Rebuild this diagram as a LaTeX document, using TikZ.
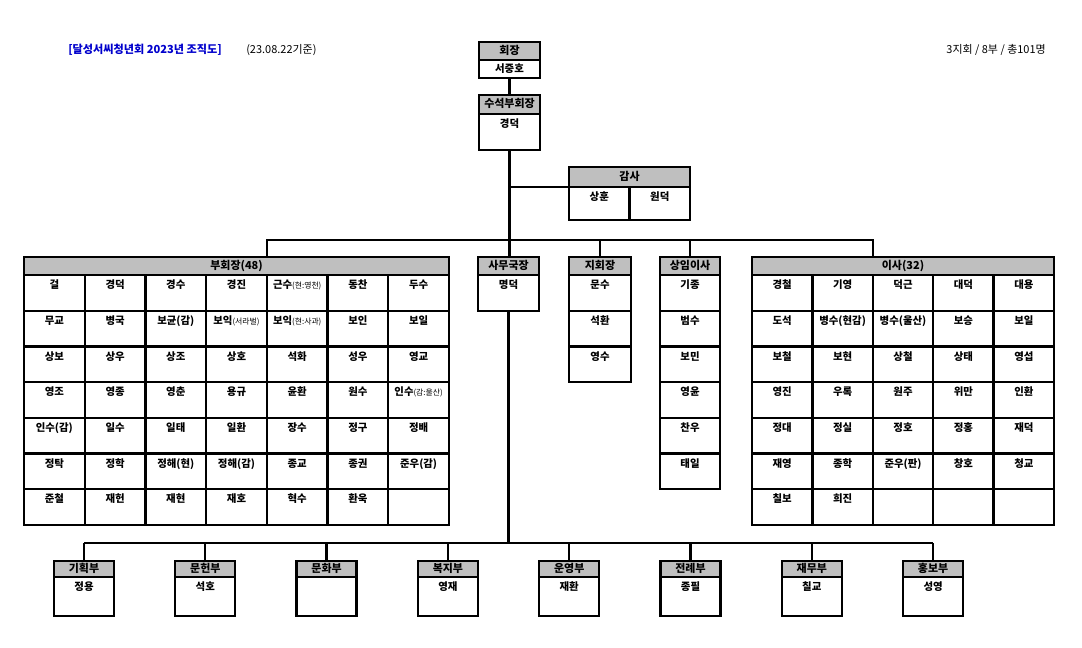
\documentclass[tikz,border=0pt]{standalone}
\usepackage{fontspec}
\setmainfont{Noto Sans CJK KR}
\definecolor{titleblue}{RGB}{0,0,204}
\newcommand{\sm}[1]{{\fontsize{5.6}{6.5}\selectfont\mdseries #1}}

\begin{document}
\begin{tikzpicture}[
    x=0.025cm, y=-0.025cm,
    head/.style={draw, fill=gray!50, line width=1.6pt, anchor=north west, inner sep=0pt, outer sep=0pt, minimum height=0.45cm, text height=0.22cm, text depth=0.06cm, font=\bfseries\fontsize{7.8}{9}\selectfont},
    cell/.style={draw, fill=white, line width=1.6pt, anchor=north west, inner xsep=0pt, inner ysep=0.1cm, outer sep=0pt, minimum width=1.518cm, minimum height=0.893cm, text height=0.24cm, text depth=0.453cm, font=\bfseries\fontsize{7.4}{8.6}\selectfont},
    link/.style={line width=1.6pt},
    note/.style={anchor=west, inner sep=0pt, font=\fontsize{7.8}{9}\selectfont},
]
    \useasboundingbox (0,0) rectangle (1082,648);

    % Title line
    \node[note, font=\bfseries\fontsize{7.9}{9}\selectfont, text=titleblue] (title) at (68,50) {[달성서씨청년회 2023년 조직도]};
    \node[note] (date) at (246,50) {(23.08.22기준)};
    \node[note, anchor=east] (total) at (1046,50) {3지회 / 8부 / 총101명};

    % President
    \node[head, minimum width=1.525cm] (chair-h) at (479,42) {회장};
    \node[cell, minimum width=1.525cm, minimum height=0.45cm, inner ysep=0pt, text height=0.22cm, text depth=0.06cm] (chair) at (479,60) {서중호};

    % Senior vice president
    \node[head, minimum width=1.525cm, minimum height=0.475cm] (vchair-h) at (479,95) {수석부회장};
    \node[cell, minimum width=1.525cm, minimum height=0.9cm, text depth=0.46cm] (vchair) at (479,114) {경덕};

    % Auditors
    \node[head, minimum width=3.025cm, minimum height=0.5cm] (audit-h) at (569,167) {감사};
    \foreach \nm [count=\i from 0] in {상훈,원덕}
        \node[cell, minimum width=1.5125cm, minimum height=0.825cm, text depth=0.385cm] (audit-\i) at ({569+\i*60.5},187) {\nm};

    % Vice presidents
    \node[head, minimum width=10.625cm] (vice-h) at (24,257) {부회장(48)};
    \foreach \nm [count=\i from 0] in {걸,경덕,경수,경진,근수\sm{(현:영천)},동찬,두수,
        무교,병국,보균(감),보익\sm{(서라벌)},보익\sm{(현:사과)},보인,보일,
        상보,상우,상조,상호,석화,성우,영교,
        영조,영종,영춘,용규,윤환,원수,인수\sm{(감:울산)},
        인수(감),일수,일태,일환,장수,정구,정배,
        정탁,정학,정해(현),정해(감),종교,종권,준우(감),
        준철,재헌,재현,재호,혁수,환욱,{}}{
        \pgfmathtruncatemacro\rw{div(\i,7)}
        \pgfmathtruncatemacro\cl{mod(\i,7)}
        \node[cell] (vice-\i) at ({24+\cl*60.71},{275+\rw*35.71}) {\nm};
    }

    % Secretary general
    \node[head, minimum width=1.525cm] (secgen-h) at (478,257) {사무국장};
    \node[cell, minimum width=1.525cm] (secgen) at (478,275) {명덕};

    % Branch heads
    \node[head, minimum width=1.55cm] (branch-h) at (569,257) {지회장};
    \foreach \nm [count=\i from 0] in {문수,석환,영수}
        \node[cell, minimum width=1.55cm] (branch-\i) at (569,{275+\i*35.71}) {\nm};

    % Standing directors
    \node[head, minimum width=1.5cm] (standing-h) at (660,257) {상임이사};
    \foreach \nm [count=\i from 0] in {기종,범수,보민,영윤,찬우,태일}
        \node[cell, minimum width=1.5cm] (standing-\i) at (660,{275+\i*35.71}) {\nm};

    % Directors
    \node[head, minimum width=7.55cm] (board-h) at (752,257) {이사(32)};
    \foreach \nm [count=\i from 0] in {경철,기영,덕근,대덕,대용,
        도석,병수(현감),병수(울산),보승,보일,
        보철,보현,상철,상태,영섭,
        영진,우록,원주,위만,인환,
        정대,정실,정호,정홍,재덕,
        재영,종학,준우(판),창호,청교,
        칠보,희진,{},{},{}}{
        \pgfmathtruncatemacro\rw{div(\i,5)}
        \pgfmathtruncatemacro\cl{mod(\i,5)}
        \node[cell, minimum width=1.51cm] (board-\i) at ({752+\cl*60.4},{275+\rw*35.71}) {\nm};
    }

    % Departments
    \foreach \dn/\nm [count=\k] in {기획부/정용,문헌부/석호,문화부/{},복지부/영재,운영부/재환,전례부/종필,재무부/칠교,홍보부/성영}{
        \node[head, minimum width=1.5cm, minimum height=0.4cm] (d\k-h) at ({54+(\k-1)*121.3},561) {\dn};
        \node[cell, minimum width=1.5cm, minimum height=0.975cm, text depth=0.535cm] (d\k) at ({54+(\k-1)*121.3},577) {\nm};
    }

    % Connections
    \coordinate (busL) at (266.8,240);
    \coordinate (busR) at (872.8,240);
    \coordinate (busB) at (0,543);
    \draw[link] (chair.south) -- (chair.south |- vchair-h.north);
    \draw[link] (vchair.south) -- (vchair.south |- secgen-h.north);
    \draw[link] (vchair.south |- audit-h.south west) -- (audit-h.south west);
    \draw[link] (busL |- vice-h.north) -- (busL) -- (busR) -- (busR |- board-h.north);
    \draw[link] (branch-h.north) -- (branch-h.north |- busL);
    \draw[link] (standing-h.north) -- (standing-h.north |- busL);
    \draw[link] (secgen.south) -- (secgen.south |- busB);
    \draw[link] (d1-h.north |- busB) -- (d8-h.north |- busB);
    \foreach \k in {1,...,8}
        \draw[link] (d\k-h.north) -- (d\k-h.north |- busB);
\end{tikzpicture}
\end{document}
